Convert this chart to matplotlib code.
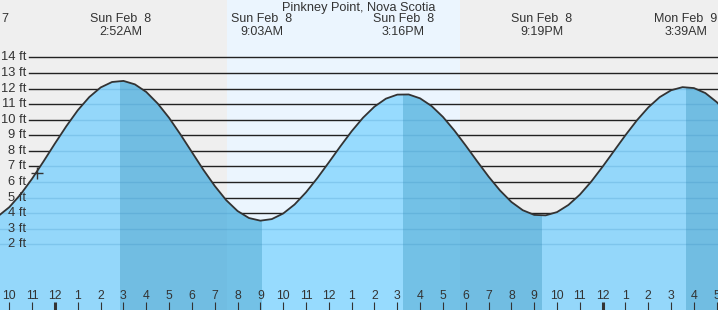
import numpy as np
import matplotlib
matplotlib.use("Agg")
import matplotlib.pyplot as plt
from matplotlib.patches import Polygon

plt.rcParams['font.family'] = ['Liberation Sans', 'DejaVu Sans']

# hours from midnight Sun Feb 8, sampled every half hour
times = np.arange(-2.5, 30.0, 0.5)
heights = [3.80, 4.39, 5.22, 6.22, 7.33, 8.48, 9.59, 10.61, 11.45, 12.07, 12.42,
           12.49, 12.27, 11.78, 11.04, 10.12, 9.05, 7.92, 6.79, 5.75, 4.84, 4.14, 3.69, 3.52,
           3.62, 3.98, 4.56, 5.34, 6.26, 7.26, 8.28, 9.26, 10.13, 10.84, 11.35, 11.61,
           11.62, 11.37, 10.88, 10.18, 9.31, 8.34, 7.33, 6.35, 5.46, 4.72, 4.19, 3.89,
           3.86, 4.07, 4.53, 5.19, 6.03, 6.99, 8.00, 9.01, 9.96, 10.79, 11.45, 11.89, 12.09,
           12.03, 11.71, 11.13, 10.34]

# high / low tides
tide_times = [-3.30, 2.87, 9.05, 15.27, 21.32, 27.65]
tide_kind = ["low", "high", "low", "high", "low", "high"]
tide_labels = [("Sat Feb  7", "8:42PM"), ("Sun Feb  8", "2:52AM"), ("Sun Feb  8", "9:03AM"),
               ("Sun Feb  8", "3:16PM"), ("Sun Feb  8", "9:19PM"), ("Mon Feb  9", "3:39AM")]

sunrise = 7.52
sunset = 17.75
now_t, now_h = -0.79, 6.56
ft_levels = list(range(2, 15))
hour_ticks = list(range(-2, 30))

x0, x1 = -2.41, 29.054
y0, y1 = -2.214, 17.683

fig = plt.figure(figsize=(7.18, 3.10), dpi=100)
ax = fig.add_axes([0, 0, 1, 1])
ax.set_xlim(x0, x1)
ax.set_ylim(y0, y1)
ax.axis('off')

# night / day background
ax.axvspan(x0, x1, color='#efefef', zorder=0, lw=0)
ax.axvspan(sunrise, sunset, color='#ebf5fe', zorder=0.5, lw=0)

for lv in ft_levels:
    ax.axhline(lv, xmin=29.5 / 718, xmax=1, color='#222222', lw=1.0, zorder=1)
    ax.text(26.5 / 718, lv, "%d ft" % lv, transform=ax.get_yaxis_transform(),
            ha='right', va='center', fontsize=9.3, color='#333333', zorder=6)

verts = [(x0 - 1, y0 - 1)] + list(zip(times, heights)) + [(times[-1], y0 - 1)]
water = Polygon(verts, closed=True, facecolor='#97dbfe', edgecolor='none', zorder=2)
ax.add_patch(water)

# falling tide: from each high to the next low
for i in range(len(tide_times)):
    if tide_kind[i] == "high":
        end = tide_times[i + 1] if i + 1 < len(tide_times) else x1 + 1
        band = ax.axvspan(tide_times[i], end, color='#73c1e6', lw=0, zorder=3)
        band.set_clip_path(water)

for a, b in [(x0 - 1, sunrise), (sunset, x1 + 1)]:
    sh = ax.axvspan(a, b, color='black', alpha=0.015, lw=0, zorder=3.5)
    sh.set_clip_path(water)

for lv in ft_levels:
    ln = ax.axhline(lv, color='#2a80b5', alpha=0.2, lw=1.0, zorder=4)
    ln.set_clip_path(water)

ax.plot(times, heights, color='#333333', lw=1.3, zorder=5)
ax.plot([now_t], [now_h], marker='+', color='#333333', ms=9, mew=1.0, zorder=5)

ax.text(0.5, 1 - 7.5 / 310, "Pinkney Point, Nova Scotia", transform=ax.transAxes,
        ha='center', va='center', fontsize=9.2, color='#333333', zorder=6)
for t, (d, hm) in zip(tide_times, tide_labels):
    ax.text(t, 1 - 19.5 / 310, d, transform=ax.get_xaxis_transform(),
            ha='center', va='center', fontsize=9, color='#333333', zorder=6)
    ax.text(t, 1 - 32 / 310, hm, transform=ax.get_xaxis_transform(),
            ha='center', va='center', fontsize=9, color='#333333', zorder=6)

# hour ticks at the bottom
for h in hour_ticks:
    hr = ((h % 24) + 11) % 12 + 1
    w = 2.2 if h % 24 == 0 else 0.8
    ax.vlines(h, y0, -1.70, color='#333333', lw=w, zorder=6)
    ax.text(h, -1.30, str(hr), ha='center', va='center', fontsize=8.8,
            color='#333333', zorder=6)

fig.savefig("out.png", dpi=100)
